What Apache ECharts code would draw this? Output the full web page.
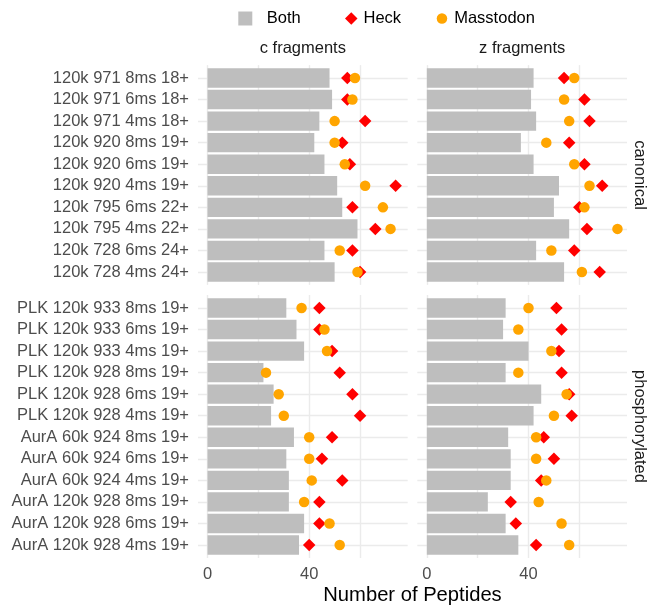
<!DOCTYPE html>
<html><head><meta charset="utf-8">
<script src="https://cdn.jsdelivr.net/npm/echarts@6/dist/echarts.min.js"></script>
<style>html,body{margin:0;padding:0;background:#fff}#c{width:649px;height:607px}</style>
</head><body><div id="c"></div>
<script>
// ---- data ----
const fragmentTypes = ['c fragments', 'z fragments'];
const peptideGroups = ['canonical', 'phosphorylated'];
const legendNames = ['Both', 'Heck', 'Masstodon'];
const xTickLabels = [0, 40];
const xAxisTitle = 'Number of Peptides';

const canonicalCats = ['120k 971 8ms 18+', '120k 971 6ms 18+', '120k 971 4ms 18+', '120k 920 8ms 19+', '120k 920 6ms 19+',
  '120k 920 4ms 19+', '120k 795 6ms 22+', '120k 795 4ms 22+', '120k 728 6ms 24+', '120k 728 4ms 24+'];
const phosphoCats = ['PLK 120k 933 8ms 19+', 'PLK 120k 933 6ms 19+', 'PLK 120k 933 4ms 19+', 'PLK 120k 928 8ms 19+',
  'PLK 120k 928 6ms 19+', 'PLK 120k 928 4ms 19+', 'AurA 60k 924 8ms 19+', 'AurA 60k 924 6ms 19+', 'AurA 60k 924 4ms 19+',
  'AurA 120k 928 8ms 19+', 'AurA 120k 928 6ms 19+', 'AurA 120k 928 4ms 19+'];

const cCanonBoth = [48, 49, 44, 42, 46, 51, 53, 59, 46, 50];
const cCanonHeck = [55, 55, 62, 53, 56, 74, 57, 66, 57, 60];
const cCanonMass = [58, 57, 50, 50, 54, 62, 69, 72, 52, 59];

const zCanonBoth = [42, 41, 43, 37, 42, 52, 50, 56, 43, 54];
const zCanonHeck = [54, 62, 64, 56, 62, 69, 60, 63, 58, 68];
const zCanonMass = [58, 54, 56, 47, 58, 64, 62, 75, 49, 61];

const cPhosBoth = [31, 35, 38, 22, 26, 25, 34, 31, 32, 32, 38, 36];
const cPhosHeck = [44, 44, 49, 52, 57, 60, 49, 45, 53, 44, 44, 40];
const cPhosMass = [37, 46, 47, 23, 28, 30, 40, 40, 41, 38, 48, 52];

const zPhosBoth = [31, 30, 40, 31, 45, 42, 32, 33, 33, 24, 31, 36];
const zPhosHeck = [51, 53, 52, 53, 56, 57, 46, 50, 45, 33, 35, 43];
const zPhosMass = [40, 36, 49, 36, 55, 50, 43, 43, 47, 44, 53, 56];

// ---- layout / style ----
const FONT = "'Liberation Sans', Arial, Helvetica, sans-serif";
const XMIN = -3.75, XMAX = 78.75;
const cols = [{left: 198, width: 209.7}, {left: 417.3, width: 209.7}];
const rows = [
  {top: 65.1, height: 219.8, dataTop: 67.2, dataH: 215.6, cats: canonicalCats},
  {top: 295.1, height: 262.8, dataTop: 297.2, dataH: 258.6, cats: phosphoCats}
];
const panelData = [
  [[cCanonBoth, cCanonHeck, cCanonMass], [zCanonBoth, zCanonHeck, zCanonMass]],
  [[cPhosBoth, cPhosHeck, cPhosMass], [zPhosBoth, zPhosHeck, zPhosMass]]
];
const GRID_COLOR = '#ebebeb';

const grid = [], xAxis = [], yAxis = [], series = [];
rows.forEach((r, ri) => {
  cols.forEach((c, ci) => {
    const p = ri * 2 + ci;
    const bg = 2 * p, dg = 2 * p + 1;
    grid.push({left: c.left, top: r.top, width: c.width, height: r.height, containLabel: false});
    grid.push({left: c.left, top: r.dataTop, width: c.width, height: r.dataH, containLabel: false});
    xAxis.push({
      gridIndex: bg, type: 'value', min: XMIN, max: XMAX, splitNumber: 4,
      axisLine: {show: false}, axisTick: {show: false},
      splitLine: {show: true, showMinLine: false, showMaxLine: false, lineStyle: {color: GRID_COLOR, width: 1.4}},
      axisLabel: ri === 1 ? {
        show: true, fontSize: 16.5, color: '#4d4d4d', fontFamily: FONT, margin: 8,
        showMinLabel: false, showMaxLabel: false,
        formatter: v => xTickLabels.indexOf(v) >= 0 ? String(v) : ''
      } : {show: false}
    });
    yAxis.push({gridIndex: bg, type: 'value', show: false});
    xAxis.push({gridIndex: dg, type: 'value', min: XMIN, max: XMAX, show: false});
    yAxis.push({
      gridIndex: dg, type: 'category', data: r.cats, inverse: true,
      axisLine: {show: false}, axisTick: {show: false}, splitLine: {show: false},
      axisLabel: ci === 0 ? {show: true, interval: 0, hideOverlap: false, fontSize: 16.5, color: '#4d4d4d', fontFamily: FONT, margin: 9} : {show: false}
    });
    const [both, heck, mass] = panelData[ri][ci];
    series.push({
      type: 'bar', name: legendNames[0], xAxisIndex: dg, yAxisIndex: dg, data: both,
      barWidth: '90%', itemStyle: {color: '#bebebe'}, z: 2, silent: true,
      markLine: {
        silent: true, z: 1, symbol: ['none', 'none'], label: {show: false},
        lineStyle: {color: GRID_COLOR, width: 1.4, type: 'solid'},
        emphasis: {disabled: true},
        data: r.cats.map(cat => ({yAxis: cat}))
      }
    });
    series.push({
      type: 'scatter', name: legendNames[1], xAxisIndex: dg, yAxisIndex: dg,
      data: heck.map((v, i) => [v, r.cats[i]]),
      symbol: 'diamond', symbolSize: 12.5, itemStyle: {color: '#ff0000', opacity: 1}, z: 3, silent: true
    });
    series.push({
      type: 'scatter', name: legendNames[2], xAxisIndex: dg, yAxisIndex: dg,
      data: mass.map((v, i) => [v, r.cats[i]]),
      symbol: 'circle', symbolSize: 10.5, itemStyle: {color: '#ffa500', opacity: 1}, z: 4, silent: true
    });
  });
});

const legendBase = {orient: 'horizontal', padding: 0, selectedMode: false, top: 10};
const legend = [
  Object.assign({}, legendBase, {data: [{name: legendNames[0], icon: 'rect'}], left: 238.3, itemWidth: 14, itemHeight: 14,
    textStyle: {fontSize: 16.5, color: '#000', fontFamily: FONT, padding: [0, 0, 0, 9.4]}}),
  Object.assign({}, legendBase, {data: [{name: legendNames[1], icon: 'diamond'}], left: 345, itemWidth: 12.5, itemHeight: 12.5,
    textStyle: {fontSize: 16.5, color: '#000', fontFamily: FONT, padding: [0, 0, 0, 1]}}),
  Object.assign({}, legendBase, {data: [{name: legendNames[2], icon: 'circle'}], left: 436.7, itemWidth: 10.5, itemHeight: 10.5,
    textStyle: {fontSize: 16.5, color: '#000', fontFamily: FONT, padding: [0, 0, 0, 2]}})
];

const stripText = (text, x, y, rot) => ({
  type: 'text', x: x, y: y, rotation: rot || 0, silent: true,
  style: {text: text, x: 0, y: 0, textAlign: 'center', textVerticalAlign: 'middle', fontSize: 16.5, fontFamily: FONT, fill: '#1a1a1a'}
});
const graphic = [
  stripText(fragmentTypes[0], cols[0].left + cols[0].width / 2, 48.3),
  stripText(fragmentTypes[1], cols[1].left + cols[1].width / 2, 48.3),
  stripText(peptideGroups[0], 640, rows[0].top + rows[0].height / 2, -Math.PI / 2),
  stripText(peptideGroups[1], 640, rows[1].top + rows[1].height / 2, -Math.PI / 2),
  {type: 'text', x: 412.5, y: 595, silent: true,
   style: {text: xAxisTitle, x: 0, y: 0, textAlign: 'center', textVerticalAlign: 'middle', fontSize: 20.2, fontFamily: FONT, fill: '#000'}}
];

const chart = echarts.init(document.getElementById('c'), null, {renderer: 'canvas'});
chart.setOption({
  backgroundColor: '#fff', animation: false,
  textStyle: {fontFamily: FONT},
  legend, grid, xAxis, yAxis, series, graphic
});
</script>
</body></html>
